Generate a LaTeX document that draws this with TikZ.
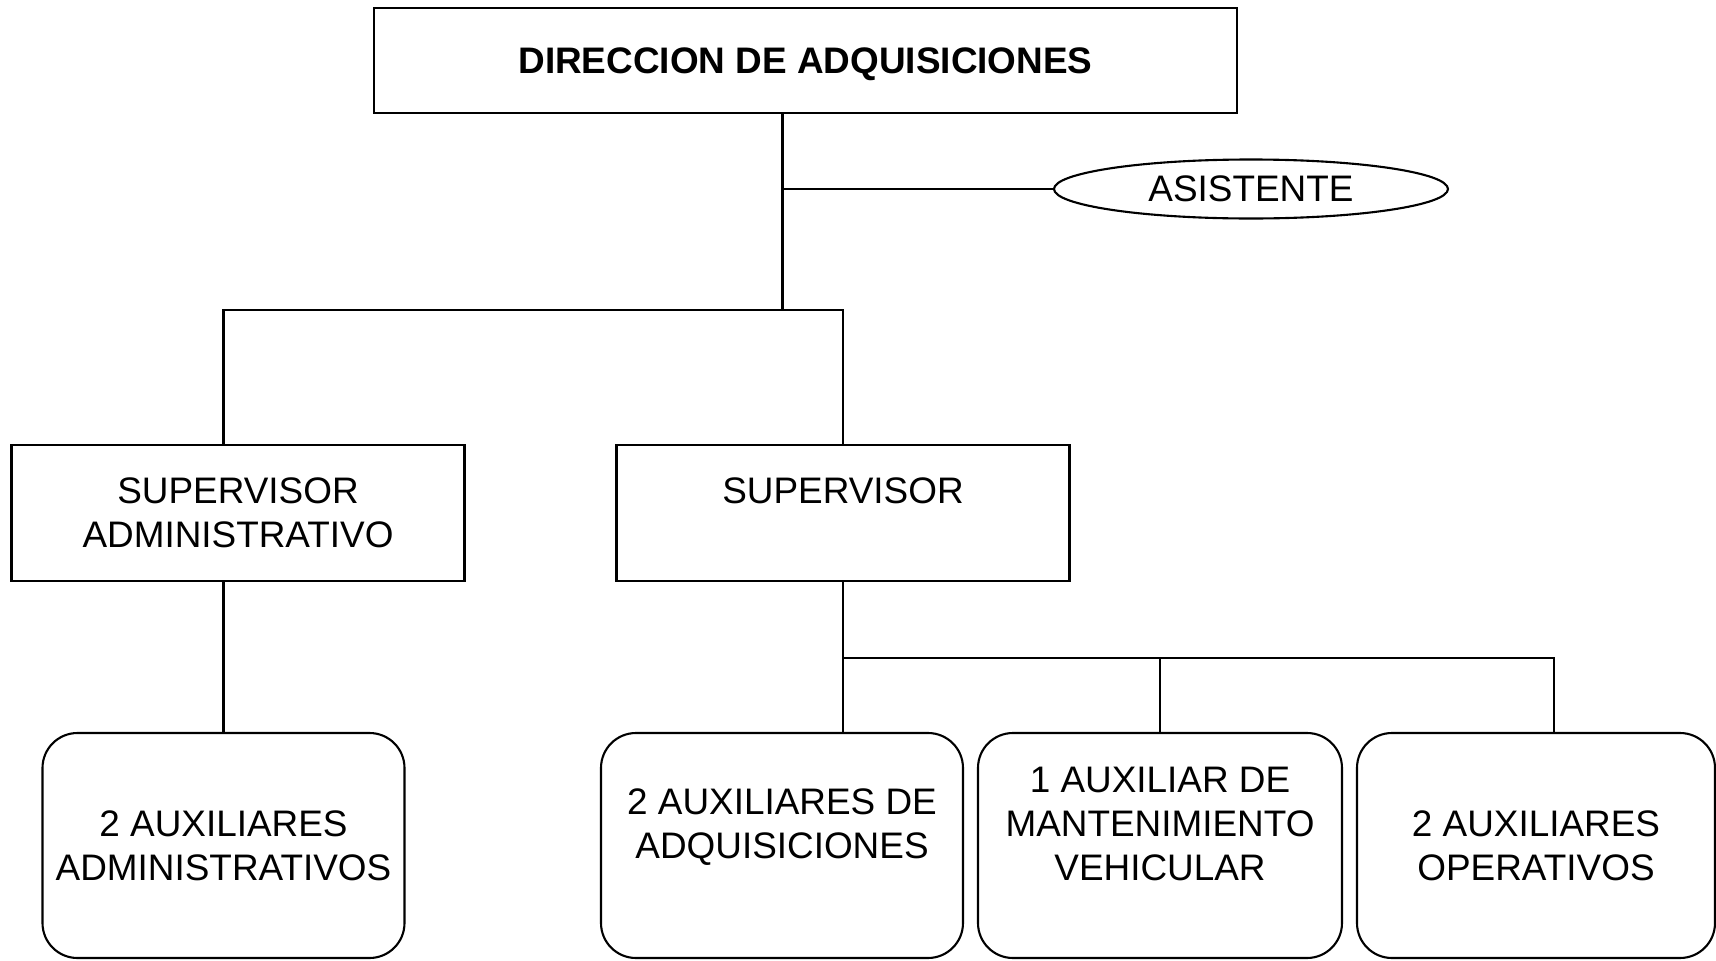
\documentclass[tikz,border=0pt]{standalone}
\usepackage{fontspec}
\setmainfont{Liberation Sans}
\usetikzlibrary{shapes.geometric}

\begin{document}
\begin{tikzpicture}[
        puesto/.style={draw, line width=0.6pt, align=center, inner sep=0pt,
            font=\fontsize{10.5}{12.5}\selectfont},
        jefe/.style={puesto, minimum width=8.63cm, minimum height=1.05cm,
            font=\bfseries\fontsize{10.5}{12}\selectfont},
        mando/.style={puesto, minimum width=4.53cm, minimum height=1.36cm},
        auxiliar/.style={puesto, rounded corners=0.35cm, minimum width=3.62cm, minimum height=2.25cm},
        linea/.style={line width=0.6pt}]
            \useasboundingbox (0,0) rectangle (17.16,-9.61);
            % Direccion y asistente
            \node[jefe, text depth=0pt] (dir) at (8.055,-0.605) {DIRECCION DE ADQUISICIONES};
            \node[puesto, ellipse, minimum width=3.94cm, minimum height=0.59cm] (asis) at (12.51,-1.89) {ASISTENTE};
            % Supervisores
            \node[mando] (supadm) at (2.38,-5.13) {SUPERVISOR\\ADMINISTRATIVO};
            \node[mando] (sup) at (8.43,-5.13) {SUPERVISOR\\~};
            % Auxiliares
            \node[auxiliar] (auxadm) at (2.235,-8.455) {2 AUXILIARES\\ADMINISTRATIVOS};
            \node[auxiliar] (auxadq) at (7.82,-8.455) {2 AUXILIARES DE\\ADQUISICIONES\\~};
            \node[auxiliar, minimum width=3.64cm] (auxmant) at (11.60,-8.455) {1 AUXILIAR DE\\MANTENIMIENTO\\VEHICULAR\\~};
            \node[auxiliar, minimum width=3.58cm] (auxop) at (15.36,-8.455) {2 AUXILIARES\\OPERATIVOS};
            % Conectores
            \coordinate (j0) at (7.825,-3.10);
            \coordinate (j2) at (15.54,-6.58);
            \draw[linea] (dir.south -| j0) -- (j0);
            \draw[linea] (j0 |- asis.west) -- (asis.west);
            \draw[linea] (auxadm.north |- supadm.north) |- (sup.north |- j0) -- (sup.north);
            \draw[linea] (supadm.south -| auxadm.north) -- (auxadm.north);
            \draw[linea] (sup.south) -- (sup.south |- auxadq.north);
            \draw[linea] (sup.south |- j2) -- (j2) -- (j2 |- auxop.north);
            \draw[linea] (auxmant.north |- j2) -- (auxmant.north);
        \end{tikzpicture}
\end{document}
